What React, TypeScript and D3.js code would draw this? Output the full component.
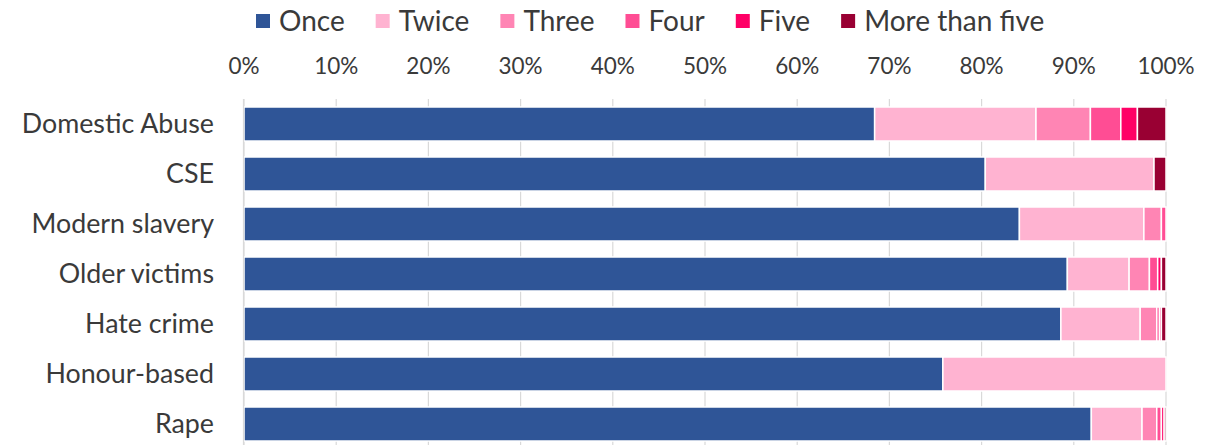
import React, { useEffect, useRef } from "react";
import * as d3 from "d3";

const categories = ["Domestic Abuse", "CSE", "Modern slavery", "Older victims", "Hate crime", "Honour-based", "Rape"];
const seriesNames = ["Once", "Twice", "Three", "Four", "Five", "More than five"];
const once = [68.4, 80.4, 84.1, 89.3, 88.6, 75.8, 91.9];
const twice = [17.5, 18.3, 13.5, 6.7, 8.6, 24.2, 5.5];
const three = [5.9, 0, 1.9, 2.2, 1.8, 0, 1.6];
const four = [3.3, 0, 0.5, 0.9, 0.3, 0, 0.5];
const five = [1.8, 0, 0, 0.4, 0.2, 0, 0.3];
const moreThanFive = [3.1, 1.3, 0, 0.5, 0.5, 0, 0.2];
const colors = ["#2F5597", "#FFB3D1", "#FF85B4", "#FF4D94", "#FF0066", "#990033"];
const tickValues = [0, 10, 20, 30, 40, 50, 60, 70, 80, 90, 100];

const W = 1215, H = 445;
const FONT = "Lato, 'Open Sans', sans-serif";

export default function App() {
  const ref = useRef<SVGSVGElement>(null);
  useEffect(() => {
    document.body.style.margin = "0";
    const svg = d3.select(ref.current);
    svg.selectAll("*").remove();
    const seriesVals = [once, twice, three, four, five, moreThanFive];
    const rows = categories.map((c, i) => {
      const o: any = { cat: c };
      seriesNames.forEach((s, j) => (o[s] = seriesVals[j][i]));
      return o;
    });
    const stack = d3.stack<any>().keys(seriesNames)(rows);
    const x = d3.scaleLinear().domain([0, 100]).range([244, 1166]);
    const y = d3.scaleBand().domain(categories).range([99, 449]).paddingInner(0.32).paddingOuter(0.16);

    // gridlines
    svg.append("g").selectAll("line").data(tickValues).join("line")
      .attr("x1", (d) => x(d)).attr("x2", (d) => x(d))
      .attr("y1", 99).attr("y2", H)
      .attr("stroke", "#d9d9d9").attr("stroke-width", 1.2);

    // bars
    svg.append("g").selectAll("g").data(stack).join("g")
      .attr("fill", (_d, i) => colors[i])
      .selectAll("rect").data((d) => d).join("rect")
      .attr("x", (d) => x(d[0]))
      .attr("width", (d) => Math.max(0, x(d[1]) - x(d[0])))
      .attr("y", (d: any) => y(d.data.cat)!)
      .attr("height", y.bandwidth())
      .attr("stroke", "#ffffff").attr("stroke-width", 1.5);

    // left axis line
    svg.append("line").attr("x1", 243.5).attr("x2", 243.5).attr("y1", 99).attr("y2", H)
      .attr("stroke", "#d9d9d9").attr("stroke-width", 1.2);

    // tick labels
    svg.append("g").selectAll("text").data(tickValues).join("text")
      .attr("x", (d) => x(d)).attr("y", 74)
      .attr("text-anchor", "middle")
      .attr("font-family", FONT).attr("font-size", 22.5)
      .attr("fill", "#3a3a3a")
      .text((d) => `${d}%`);

    // category labels
    svg.append("g").selectAll("text").data(categories).join("text")
      .attr("x", 214).attr("y", (d) => y(d)! + y.bandwidth() / 2)
      .attr("dy", "0.35em")
      .attr("text-anchor", "end")
      .attr("font-family", FONT).attr("font-size", 26.8)
      .attr("fill", "#3a3a3a")
      .text((d) => d);

    // legend
    const lg = svg.append("g");
    let cx = 256;
    seriesNames.forEach((s, i) => {
      lg.append("rect").attr("x", cx).attr("y", 14).attr("width", 14).attr("height", 14).attr("fill", colors[i]);
      const t = lg.append("text").attr("x", cx + 23).attr("y", 21).attr("dy", "0.35em")
        .attr("font-family", FONT).attr("font-size", 28).attr("fill", "#3a3a3a").text(s);
      const w = (t.node() as SVGTextElement).getComputedTextLength();
      cx += 23 + w + 31;
    });
  }, []);
  return <svg ref={ref} width={W} height={H} style={{ display: "block" }} />;
}
